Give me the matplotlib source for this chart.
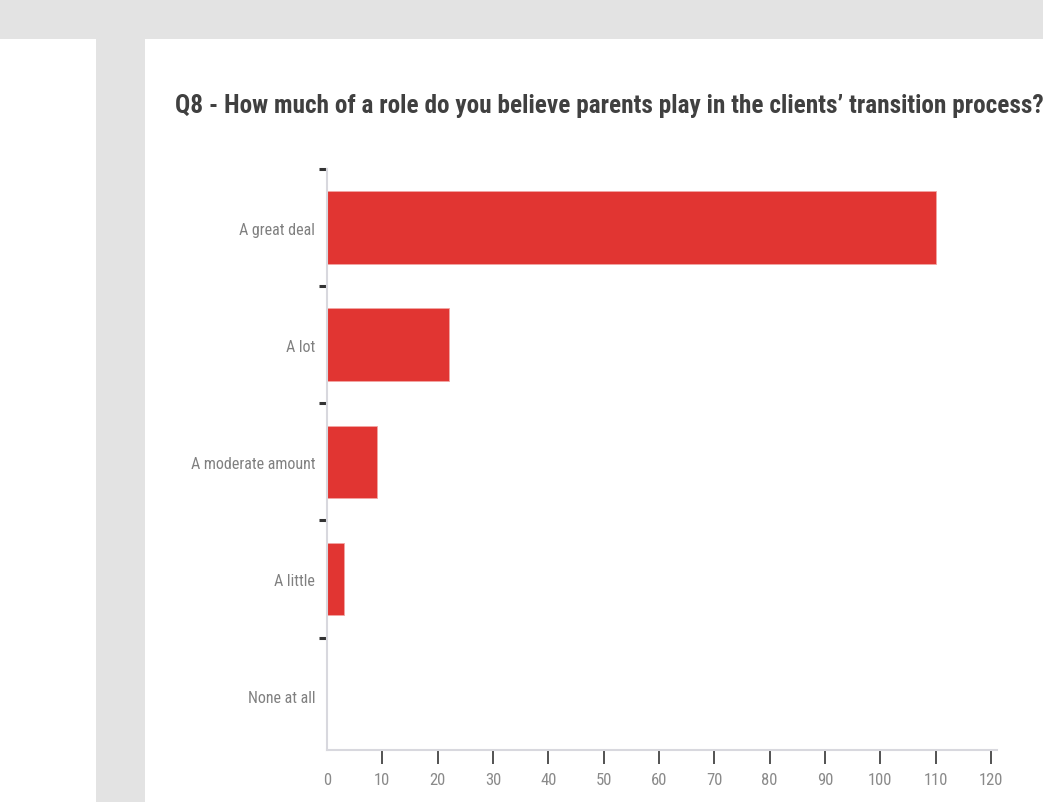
import matplotlib
matplotlib.use("Agg")
import matplotlib.pyplot as plt
from matplotlib import font_manager
from matplotlib.patches import Rectangle
from matplotlib.ticker import FixedLocator

# survey answers, top to bottom
categories = ["A great deal", "A lot", "A moderate amount", "A little", "None at all"]
counts = [110, 22, 9, 3, 0]
xticks = list(range(0, 130, 10))

title = "Q8 - How much of a role do you believe parents play in the clients\u2019 transition process?"


def narrow_font(bold):
    # look for any installed condensed / narrow face, latin families first
    prefer = ["Roboto", "Noto Sans", "Open Sans", "DejaVu Sans", "Liberation Sans", "Lato", "Inter"]
    best = None
    for f in font_manager.fontManager.ttflist:
        tag = (f.name + " " + str(f.stretch)).lower()
        if not ("condensed" in tag or "narrow" in tag):
            continue
        if "extra" in tag or "ultra" in tag or "semi" in tag:
            continue
        if f.style != "normal":
            continue
        w = f.weight if isinstance(f.weight, int) else (700 if "bold" in str(f.weight) else 400)
        if bold != (w >= 600):
            continue
        rank = next((i for i, p in enumerate(prefer) if f.name.startswith(p)), 99)
        if "CJK" in f.name or "Mono" in f.name:
            rank += 50
        key = (rank, abs(w - (700 if bold else 400)))
        if best is None or key < best[0]:
            best = (key, f.fname)
    if best is None:
        return None
    return font_manager.FontProperties(fname=best[1])


lab_fp = narrow_font(False)
tit_fp = narrow_font(True)

W, H = 1043, 803
fig = plt.figure(figsize=(W / 100, H / 100), dpi=100)
fig.patch.set_facecolor("white")

# grey page frame around the card
grey = "#e3e3e3"
fig.patches.append(Rectangle((0, 1 - 40 / H), 1, 40 / H, transform=fig.transFigure,
                             facecolor=grey, edgecolor="none", zorder=0))
fig.patches.append(Rectangle((96 / W, 0), 49 / W, 1 - 40 / H, transform=fig.transFigure,
                             facecolor=grey, edgecolor="none", zorder=0))

ax = fig.add_axes([327 / W, 1 - 751 / H, 670 / W, 581 / H])
ypos = list(range(len(categories)))
ax.barh(ypos, counts, height=0.62, color="#e13532", edgecolor="#f2a5a3", linewidth=0.6)

ax.set_xlim(0, 121.1)
ax.set_ylim(4.46, -0.5)

for s in ["top", "right"]:
    ax.spines[s].set_visible(False)
for s in ["left", "bottom"]:
    ax.spines[s].set_color("#d8d8de")
    ax.spines[s].set_linewidth(1.5)

ax.set_xticks(xticks)
ax.set_xticklabels([str(v) for v in xticks], color="#8a8a8a")
ax.tick_params(axis="x", length=10, width=1.3, color="#444444", pad=6)
ax.get_xaxis().get_major_ticks()[0].tick1line.set_visible(False)

ax.set_yticks(ypos)
ax.set_yticklabels(categories, color="#808080")
ax.tick_params(axis="y", which="major", length=0, pad=8.5)
ax.yaxis.set_minor_locator(FixedLocator([-0.5, 0.5, 1.5, 2.5, 3.5]))
ax.tick_params(axis="y", which="minor", length=6, width=2.2, color="#333333", pad=0)

for t in ax.get_xticklabels():
    if lab_fp is not None:
        t.set_fontproperties(lab_fp)
        t.set_fontsize(12)
    else:
        t.set_fontsize(10)
for t in ax.get_yticklabels():
    if lab_fp is not None:
        t.set_fontproperties(lab_fp)
        t.set_fontsize(11.5)
    else:
        t.set_fontsize(9.5)

tt = fig.text(175 / W, 1 - 113 / H, title, color="#404040", va="baseline", ha="left")
if tit_fp is not None:
    tt.set_fontproperties(tit_fp)
else:
    tt.set_fontweight("bold")
tt.set_fontsize(20)
# shrink the title so it spans the same width as the reference (175..1040 px)
fig.canvas.draw()
wpx = tt.get_window_extent().width
tt.set_fontsize(20 * 865 / wpx)

fig.savefig("out.png", dpi=100)
